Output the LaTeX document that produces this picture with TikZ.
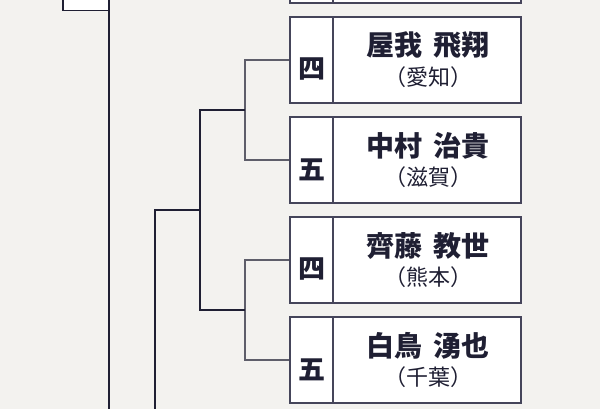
\documentclass[tikz,border=0pt]{standalone}
\usepackage{fontspec}
\newfontfamily\jp{Noto Sans CJK JP}
\definecolor{paper}{HTML}{F3F2EF}
\definecolor{ink}{HTML}{1F1F33}
\definecolor{boxline}{HTML}{45455A}
\definecolor{thin}{HTML}{5E5E6A}
\tikzset{
  cell/.style={draw=boxline, line width=1.6pt, fill=white, inner sep=0pt, minimum height=86pt},
  rankcell/.style={cell, minimum width=43pt},
  namecell/.style={cell, minimum width=188pt},
  nametext/.style={font=\jp\bfseries\fontsize{28}{30}\selectfont, text=ink, inner sep=0pt},
  preftext/.style={font=\jp\fontsize{22}{24}\selectfont, text=ink, inner sep=0pt},
  ranktext/.style={font=\jp\bfseries\fontsize{27}{29}\selectfont, text=ink, inner sep=0pt},
  darkline/.style={draw=ink, line width=1.6pt},
  boldline/.style={draw=ink, line width=2pt},
  greyline/.style={draw=thin, line width=1.3pt},
}
\begin{document}
\begin{tikzpicture}[x=1pt,y=-1pt]
\fill[paper] (0,0) rectangle (600,409);
\useasboundingbox (0,0) rectangle (600,409);
% top-left partial box
\coordinate (tl) at (63,-40);
\coordinate (br) at (109,10.5);
\filldraw[fill=white, draw=ink, line width=1.6pt] (tl) rectangle (br);
\coordinate (vbot) at (109,412);
\draw[boldline] (br) -- (vbot);
% player boxes
\foreach \k/\c in {1/-40,2/60,3/160,4/260,5/360}{
  \node[rankcell] (r\k) at (311.5,\c) {};
  \node[namecell] (n\k) at (427,\c) {};
}
% texts
\node[nametext] (t2) at (428,45.5) {屋我\hspace{0.4em}飛翔};
\node[preftext] (p2) at (428,77.5) {（愛知）};
\node[ranktext] (k2) at (312,69.5) {四};
\node[nametext] (t3) at (428,145.5) {中村\hspace{0.4em}治貴};
\node[preftext] (p3) at (428,177.5) {（滋賀）};
\node[ranktext] (k3) at (312,169.5) {五};
\node[nametext] (t4) at (428,245.5) {齊藤\hspace{0.4em}教世};
\node[preftext] (p4) at (428,277.5) {（熊本）};
\node[ranktext] (k4) at (312,269.5) {四};
\node[nametext] (t5) at (428,345.5) {白鳥\hspace{0.4em}湧也};
\node[preftext] (p5) at (428,377.5) {（千葉）};
\node[ranktext] (k5) at (312,369.5) {五};
% first-round connectors
\coordinate (ja) at (245,110);
\coordinate (jb) at (245,310);
\draw[greyline] (r2.west) -| (ja) |- (r3.west);
\draw[greyline] (r4.west) -| (jb) |- (r5.west);
% second round
\coordinate (sa) at (200,110);
\coordinate (sb) at (200,310);
\coordinate (sm) at (200,210);
\draw[darkline] (ja) -- (sa) -- (sb) -- (jb);
\coordinate (tm) at (155,210);
\coordinate (tb) at (155,412);
\draw[darkline] (sm) -- (tm) -- (tb);
\end{tikzpicture}
\end{document}
